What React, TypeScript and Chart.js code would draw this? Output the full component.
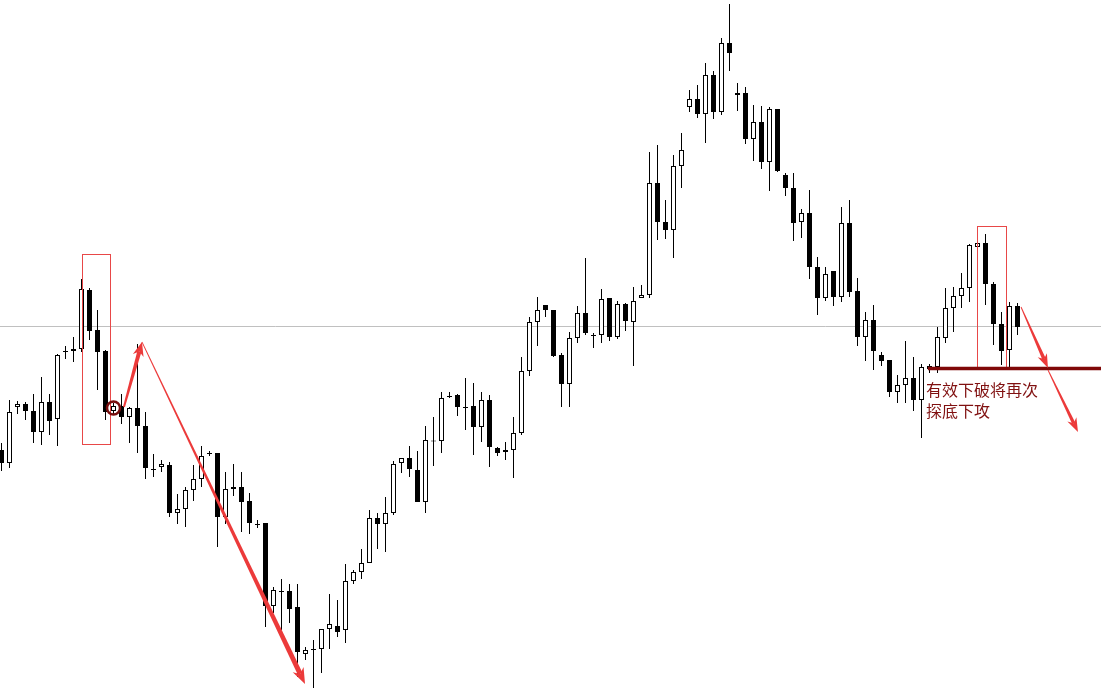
import { useEffect, useRef } from "react";
import { Chart, registerables } from "chart.js";

Chart.register(...registerables);

// OHLC prices per bar (index 0..127)
const openP = [
  550, 537, 593, 596, 589, 568, 598, 581, 649, 649, 651, 710, 670, 649, 589, 594, 583, 592, 574, 531,
  533, 535, 487, 491, 510, 521, 547, 547, 483, 511, 513, 499, 476, 477, 394, 409, 409, 393, 346, 351,
  351, 371, 374, 370, 419, 428, 437, 482, 476, 487, 537, 542, 530, 498, 559.5, 559, 604, 605, 593, 594,
  573, 600, 552, 548, 550, 567, 629, 678, 695, 690, 645, 616, 662, 687, 665, 665, 702, 663, 696, 678,
  702, 705, 817, 778, 770, 834, 893, 901, 886, 925, 888, 957, 905, 907, 861, 878, 838, 891, 825, 812,
  778, 787, 733, 702, 729, 703, 777, 709, 663, 680, 645, 640, 608, 615, 622, 600, 631, 633, 662, 692,
  704, 712, 753, 757, 716, 676, 650, 694,
];
const highP = [
  557, 600, 599, 598, 606, 623, 606, 646, 654, 663, 721, 712, 690, 650, 597, 606, 593, 656, 588, 546,
  540, 538, 506, 513, 535, 554, 549, 547, 528, 536, 528, 507, 480, 477, 413, 421, 416, 416, 353, 360,
  371, 406, 400, 436, 430, 451, 490, 487, 503, 539, 542, 554, 549, 574, 583, 608, 608, 606, 622, 617,
  608, 605, 553, 558, 583, 643, 683, 703, 695, 690, 647, 668, 694, 742, 667, 711, 702, 699, 697, 713,
  715, 848, 855, 800, 845, 867, 910, 915, 937, 929, 962, 996, 917, 913, 895, 894, 893, 891, 827, 827,
  791, 810, 743, 733, 729, 793, 800, 722, 688, 695, 648, 640, 625, 659, 643, 636, 636, 673, 712, 713,
  727, 756, 758, 766, 718, 688, 698, 697,
];
const lowP = [
  529, 532, 586, 580, 557, 555, 565, 554, 641, 638, 648, 660, 610, 580, 586, 576, 557, 547, 521, 523,
  528, 483, 476, 473, 499, 513, 544, 453, 476, 504, 468, 466, 472, 373, 387, 370, 377, 323, 340, 312,
  327, 351, 363, 357, 416, 421, 437, 451, 448, 485, 527, 523, 498, 487, 534, 547, 602, 584, 570, 545,
  558, 533, 544, 540, 522, 565, 624, 654, 683, 643, 593, 593, 657, 665, 652, 657, 659, 661, 669, 634,
  702, 702, 760, 761, 742, 812, 888, 882, 857, 881, 885, 929, 889, 856, 839, 831, 809, 828, 804, 759,
  762, 721, 685, 699, 694, 698, 703, 654, 639, 630, 634, 603, 597, 597, 589, 562, 627, 627, 657, 668,
  692, 698, 753, 695, 655, 635, 633, 665,
];
const closeP = [
  537, 588, 596, 589, 568, 598, 579, 645, 648, 651, 711, 669, 648, 588, 594, 583, 592, 574, 532, 530,
  536, 487, 491, 510, 521, 544, 546, 483, 511, 513, 498, 477, 475, 394, 410, 408, 391, 348, 350, 350,
  371, 376, 368, 419, 428, 437, 482, 476, 487, 536, 542, 531, 498, 560, 558.5, 602, 603, 593, 592, 573,
  600, 553, 547, 550, 567, 629, 678, 690, 690, 644, 616, 662, 687, 667, 664, 701, 663, 696, 679, 699,
  705, 817, 778, 770, 834, 850, 901, 886, 925, 888, 957, 947, 907, 861, 878, 838, 891, 829, 812, 777,
  787, 733, 702, 726, 703, 777, 708, 663, 680, 649, 639, 608, 615, 622, 600, 633, 634, 663, 692, 704,
  712, 755, 757, 716, 676, 649, 694, 673,
];

const barIndex = openP.map((_, i) => i);

// annotation definitions in (bar index, price) units
const levelLine = 673.5;
const supportLine = { from: 115.8, price: 631.5 };
const boxes = [
  { x0: 10.125, x1: 13.625, p0: 745.5, p1: 555.5 },
  { x0: 122.0, x1: 125.625, p0: 773.5, p1: 632 },
];
const circleMark = { x: 14, price: 592 };
const arrows = [
  { x0: 15.31, p0: 593, x1: 17.56, p1: 658, w0: 2, w1: 4.2, hl: 14, hw: 11 },
  { x0: 17.56, p0: 658, x1: 37.94, p1: 316, w0: 0.8, w1: 5, hl: 16, hw: 12 },
  { x0: 127.44, p0: 693, x1: 130.81, p1: 632, w0: 0.9, w1: 3.6, hl: 14, hw: 10 },
  { x0: 130.81, p0: 630, x1: 134.56, p1: 568, w0: 0.9, w1: 3.4, hl: 14, hw: 10 },
];
const noteLines = ["有效下破将再次", "探底下攻"];
const noteAnchor = { x: 115.56, prices: [604, 583] };

function drawArrow(
  ctx: CanvasRenderingContext2D,
  x0: number, y0: number, x1: number, y1: number,
  w0: number, w1: number, hl: number, hw: number, color: string
) {
  const dx = x1 - x0, dy = y1 - y0;
  const len = Math.hypot(dx, dy);
  const ux = dx / len, uy = dy / len;
  const nx = -uy, ny = ux;
  const bx = x1 - ux * hl * 0.7, by = y1 - uy * hl * 0.7;
  ctx.fillStyle = color;
  ctx.beginPath();
  ctx.moveTo(x0 + (nx * w0) / 2, y0 + (ny * w0) / 2);
  ctx.lineTo(bx + (nx * w1) / 2, by + (ny * w1) / 2);
  ctx.lineTo(bx - (nx * w1) / 2, by - (ny * w1) / 2);
  ctx.lineTo(x0 - (nx * w0) / 2, y0 - (ny * w0) / 2);
  ctx.closePath();
  ctx.fill();
  const hx = x1 - ux * hl, hy = y1 - uy * hl;
  ctx.beginPath();
  ctx.moveTo(x1, y1);
  ctx.lineTo(hx + (nx * hw) / 2, hy + (ny * hw) / 2);
  ctx.lineTo(bx, by);
  ctx.lineTo(hx - (nx * hw) / 2, hy - (ny * hw) / 2);
  ctx.closePath();
  ctx.fill();
}

const annotationPlugin = {
  id: "annotations",
  beforeDatasetsDraw(chart: any) {
    const { ctx, chartArea } = chart;
    const y = chart.scales.y.getPixelForValue(levelLine);
    ctx.save();
    ctx.strokeStyle = "rgb(192,192,192)";
    ctx.lineWidth = 1;
    ctx.beginPath();
    ctx.moveTo(chartArea.left, y);
    ctx.lineTo(chartArea.right, y);
    ctx.stroke();
    ctx.restore();
  },
  afterDatasetsDraw(chart: any) {
    const { ctx, chartArea } = chart;
    const sx = chart.scales.x, sy = chart.scales.y;
    const px = (v: number) => sx.getPixelForValue(v);
    const py = (v: number) => sy.getPixelForValue(v);
    ctx.save();

    // red boxes
    ctx.strokeStyle = "rgb(232,72,72)";
    ctx.lineWidth = 1;
    for (const b of boxes) {
      ctx.strokeRect(px(b.x0), py(b.p0), px(b.x1) - px(b.x0), py(b.p1) - py(b.p0));
    }

    // support line
    ctx.strokeStyle = "rgb(128,8,8)";
    ctx.lineWidth = 3.5;
    ctx.beginPath();
    ctx.moveTo(px(supportLine.from), py(supportLine.price));
    ctx.lineTo(chartArea.right, py(supportLine.price));
    ctx.stroke();

    // circle
    ctx.strokeStyle = "rgb(120,14,14)";
    ctx.lineWidth = 2.5;
    ctx.beginPath();
    ctx.arc(px(circleMark.x), py(circleMark.price), 6.5, 0, Math.PI * 2);
    ctx.stroke();

    // arrows
    for (const a of arrows) {
      drawArrow(ctx, px(a.x0), py(a.p0), px(a.x1), py(a.p1), a.w0, a.w1, a.hl, a.hw, "rgb(236,58,58)");
    }

    // note text
    ctx.fillStyle = "rgb(128,16,16)";
    ctx.font = '16px "Noto Sans CJK SC", sans-serif';
    ctx.textBaseline = "alphabetic";
    ctx.textAlign = "left";
    noteLines.forEach((t, k) => {
      ctx.fillText(t, px(noteAnchor.x), py(noteAnchor.prices[k]));
    });
    ctx.restore();
  },
};

export default function App() {
  const ref = useRef<HTMLCanvasElement | null>(null);
  useEffect(() => {
    if (!ref.current) return;
    const bodyColors = barIndex.map((i) => (closeP[i] >= openP[i] ? "#ffffff" : "#000000"));
    const chart = new Chart(ref.current, {
      type: "bar",
      data: {
        datasets: [
          {
            label: "body",
            data: barIndex.map((i) => ({ x: i, y: [openP[i], closeP[i]] })) as any,
            backgroundColor: bodyColors,
            borderColor: "#000000",
            borderWidth: 1,
            borderSkipped: false,
            barThickness: 5,
            grouped: false,
            inflateAmount: 0,
            minBarLength: 1,
            order: 1,
          } as any,
          {
            label: "wick",
            data: barIndex.map((i) => ({ x: i, y: [lowP[i], highP[i]] })) as any,
            backgroundColor: "#000000",
            borderWidth: 0,
            barThickness: 1,
            grouped: false,
            inflateAmount: 0,
            order: 2,
          } as any,
        ],
      },
      options: {
        animation: false,
        responsive: false,
        layout: { padding: 0 },
        plugins: { legend: { display: false }, tooltip: { enabled: false } },
        scales: {
          x: { type: "linear", min: -0.1875, max: 137.4375, display: false, offset: false },
          y: { type: "linear", min: 306, max: 1000, display: false },
        },
      },
      plugins: [annotationPlugin],
    });
    return () => chart.destroy();
  }, []);
  return (
    <canvas
      ref={ref}
      width={1101}
      height={694}
      style={{ position: "fixed", left: 0, top: 0, display: "block", background: "#ffffff" }}
    />
  );
}
